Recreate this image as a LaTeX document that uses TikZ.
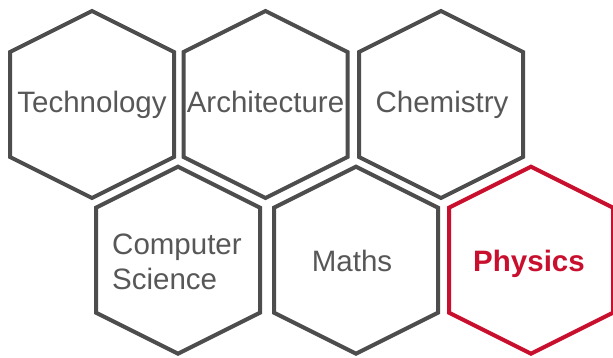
\documentclass[tikz,border=0pt]{standalone}
\usepackage{fontspec}
\setmainfont{Liberation Sans}
\usetikzlibrary{positioning}
\definecolor{cLine}{HTML}{4D4D4D}
\definecolor{cText}{HTML}{575757}
\definecolor{cHot}{HTML}{C8102E}

\begin{document}
\begin{tikzpicture}[
  x=1pt, y=-1pt,
  hexa/.pic={\draw[line width=4pt, line join=miter, draw=#1]
      (0,-93.5) -- (82,-52.5) -- (82,52.5) -- (0,93.5)
      -- (-82,52.5) -- (-82,-52.5) -- cycle;},
  subj/.style={font=\fontsize{29.5}{35}\selectfont, text=cText, inner sep=0pt, anchor=base},
  hot/.style={subj, text=cHot, font=\fontsize{29.5}{35}\selectfont\bfseries},
]
\useasboundingbox (0,0) rectangle (613,357);

% =========================== top row ===========================
\pic (hTech) at (92,104.5)    {hexa=cLine};
\pic (hArch) at (265.5,104.5) {hexa=cLine};
\pic (hChem) at (441,104.5)   {hexa=cLine};

\node[subj] (tech) at (92,112)    {Technology};
\node[subj] (arch) at (265.5,112) {Architecture};
\node[subj] (chem) at (442,112)   {Chemistry};

% =========================== bottom row ===========================
\pic (hCS)    at (178,260.2) {hexa=cLine};
\pic (hMaths) at (356,260.2) {hexa=cLine};
\pic (hPhys)  at (531,260.2) {hexa=cHot};

\node[subj, align=left, anchor=base west] (cs) at (112,289) {Computer\\Science};
\node[subj] (maths) at (352,271.7) {Maths};
\node[hot]  (phys)  at (529,271.7) {Physics};

\end{tikzpicture}
\end{document}
